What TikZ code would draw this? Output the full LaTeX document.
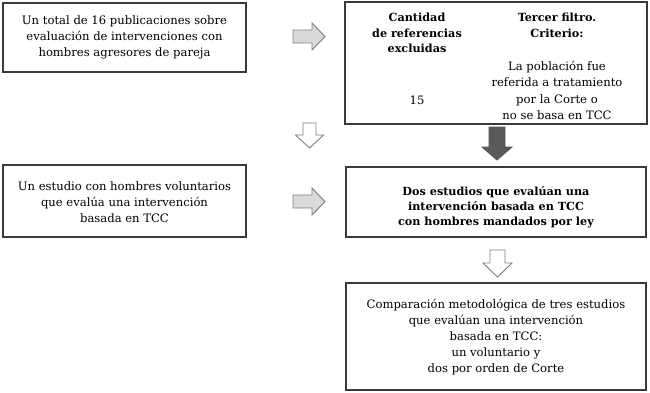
\documentclass[tikz,border=0pt]{standalone}
\usepackage{fontspec}
\setmainfont{DejaVu Serif}
\definecolor{boxline}{HTML}{3A3A3A}
\definecolor{arrline}{HTML}{7F7F7F}
\definecolor{arrfill}{HTML}{D9D9D9}
\definecolor{arrdark}{HTML}{595959}
\newcommand\myDownArrow[5]{% style, shaft half width, head half width, head start, length
  (-#2,0) -- (-#2,#4) -- (-#3,#4) -- (0,#5) -- (#3,#4) -- (#2,#4) -- (#2,0) -- cycle}
\begin{document}
\begin{tikzpicture}[x=1pt,y=-1pt,
  box/.style={draw=boxline,line width=1.1pt,inner sep=0pt},
  txt/.style={align=center,inner sep=0pt,font=\fontsize{11.6}{15.8}\selectfont},
  btxt/.style={txt,font=\fontsize{11.2}{15.8}\selectfont\bfseries},
  lightarrow/.style={draw=arrline,fill=arrfill,line width=0.9pt,line join=miter},
  hollowarrow/.style={draw=arrline,fill=white,line width=0.9pt,line join=miter},
  darkarrow/.style={draw=arrdark,fill=arrdark,line width=0.9pt,line join=miter}]
\useasboundingbox (0,0) rectangle (650,392);
% boxes
\node[box,minimum width=243pt,minimum height=69pt] (b1) at (124.5,37.5) {};
\node[box,minimum width=302pt,minimum height=122pt] (b2) at (496,63) {};
\node[box,minimum width=243pt,minimum height=72pt] (b3) at (124.5,201) {};
\node[box,minimum width=300pt,minimum height=70pt] (b4) at (496,202) {};
\node[box,minimum width=300pt,minimum height=107pt] (b5) at (496,336.5) {};
% texts
\node[txt] (b1t) at (b1.center) {Un total de 16 publicaciones sobre\\evaluación de intervenciones con\\hombres agresores de pareja};
\node[btxt] (b2a) at (417,33) {Cantidad\\de referencias\\excluidas};
\node[txt] (b2n) at (417,100) {15};
\node[btxt] (b2b) at (557,25) {Tercer filtro.\\Criterio:};
\node[txt,font=\fontsize{11.6}{16.6}\selectfont] (b2c) at (557,90.5) {La población fue\\referida a tratamiento\\por la Corte o\\no se basa en TCC};
\node[txt] (b3t) at (124.5,202) {Un estudio con hombres voluntarios\\que evalúa una intervención\\basada en TCC};
\node[btxt,font=\fontsize{11.2}{15}\selectfont\bfseries] (b4t) at (496,207) {Dos estudios que evalúan una\\intervención basada en TCC\\con hombres mandados por ley};
\node[txt] (b5t) at (496,337) {Comparación metodológica de tres estudios\\que evalúan una intervención\\basada en TCC:\\un voluntario y\\dos por orden de Corte};
% block arrows
\draw[lightarrow,shift={(293,36.5)}] (0,-6.5) -- (19,-6.5) -- (19,-13.5) -- (32,0) -- (19,13.5) -- (19,6.5) -- (0,6.5) -- cycle;
\draw[lightarrow,shift={(293,201.5)}] (0,-6.5) -- (19,-6.5) -- (19,-13.5) -- (32,0) -- (19,13.5) -- (19,6.5) -- (0,6.5) -- cycle;
\draw[hollowarrow,shift={(309.5,123)}] \myDownArrow{}{6.5}{14}{12}{25};
\draw[darkarrow,shift={(497,127)}] \myDownArrow{}{8}{15}{20}{33};
\draw[hollowarrow,shift={(497.5,250)}] \myDownArrow{}{7.5}{14.5}{13}{27};
\end{tikzpicture}
\end{document}
